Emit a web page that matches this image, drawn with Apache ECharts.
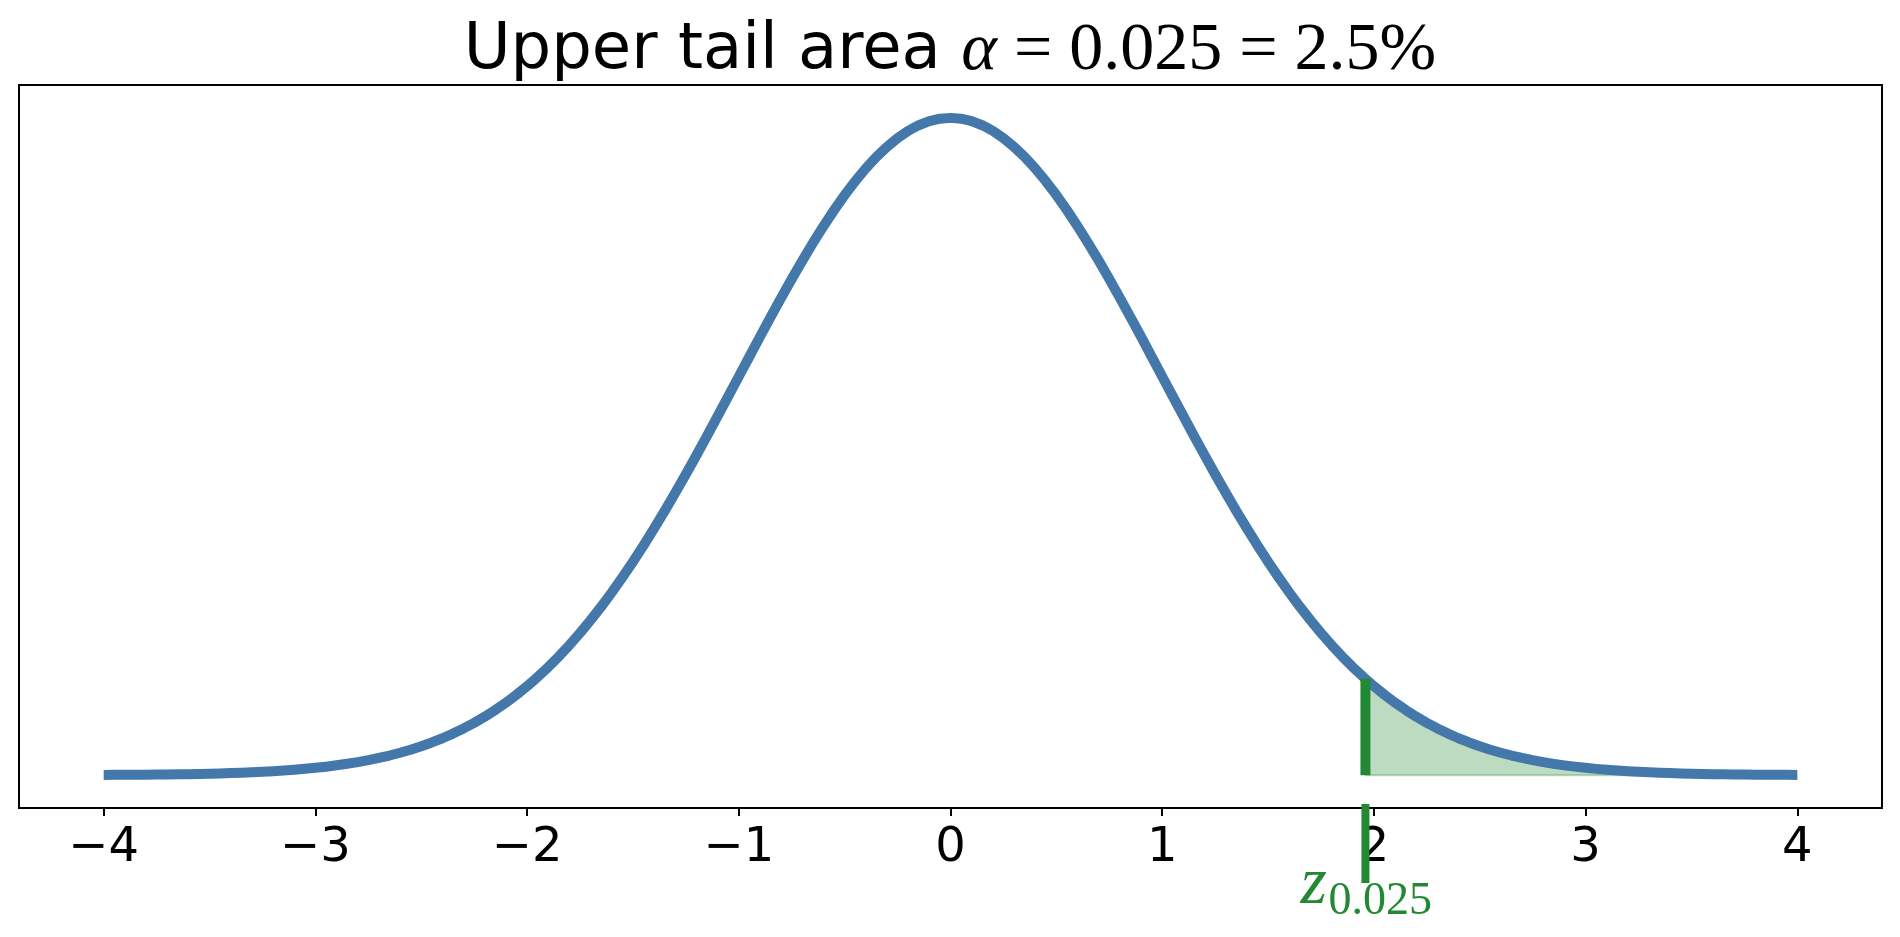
<!DOCTYPE html>
<html>
<head>
<meta charset="utf-8">
<script src="https://cdn.jsdelivr.net/npm/echarts@6/dist/echarts.min.js"></script>
<style>
html,body{margin:0;padding:0;background:#fff;}
#main{width:1900px;height:937px;}
</style>
</head>
<body>
<div id="main"></div>
<script>
// Curve points (bell-shaped density, step 0.05)
const curveX = [-4.00,-3.95,-3.90,-3.85,-3.80,-3.75,-3.70,-3.65,-3.60,-3.55,-3.50,-3.45,-3.40,-3.35,-3.30,-3.25,-3.20,-3.15,-3.10,-3.05,-3.00,-2.95,-2.90,-2.85,-2.80,-2.75,-2.70,-2.65,-2.60,-2.55,-2.50,-2.45,-2.40,-2.35,-2.30,-2.25,-2.20,-2.15,-2.10,-2.05,-2.00,-1.95,-1.90,-1.85,-1.80,-1.75,-1.70,-1.65,-1.60,-1.55,-1.50,-1.45,-1.40,-1.35,-1.30,-1.25,-1.20,-1.15,-1.10,-1.05,-1.00,-0.95,-0.90,-0.85,-0.80,-0.75,-0.70,-0.65,-0.60,-0.55,-0.50,-0.45,-0.40,-0.35,-0.30,-0.25,-0.20,-0.15,-0.10,-0.05,0.00,0.05,0.10,0.15,0.20,0.25,0.30,0.35,0.40,0.45,0.50,0.55,0.60,0.65,0.70,0.75,0.80,0.85,0.90,0.95,1.00,1.05,1.10,1.15,1.20,1.25,1.30,1.35,1.40,1.45,1.50,1.55,1.60,1.65,1.70,1.75,1.80,1.85,1.90,1.95,2.00,2.05,2.10,2.15,2.20,2.25,2.30,2.35,2.40,2.45,2.50,2.55,2.60,2.65,2.70,2.75,2.80,2.85,2.90,2.95,3.00,3.05,3.10,3.15,3.20,3.25,3.30,3.35,3.40,3.45,3.50,3.55,3.60,3.65,3.70,3.75,3.80,3.85,3.90,3.95,4.00];
const curveY = [0.00013,0.00016,0.00020,0.00024,0.00029,0.00035,0.00042,0.00051,0.00061,0.00073,0.00087,0.00104,0.00123,0.00146,0.00172,0.00203,0.00238,0.00279,0.00327,0.00381,0.00443,0.00514,0.00595,0.00687,0.00792,0.00909,0.01042,0.01191,0.01358,0.01545,0.01753,0.01984,0.02239,0.02522,0.02833,0.03174,0.03547,0.03955,0.04398,0.04879,0.05399,0.05959,0.06562,0.07206,0.07895,0.08628,0.09405,0.10226,0.11092,0.12001,0.12952,0.13943,0.14973,0.16038,0.17137,0.18265,0.19419,0.20594,0.21785,0.22988,0.24197,0.25406,0.26609,0.27798,0.28969,0.30114,0.31225,0.32297,0.33322,0.34294,0.35207,0.36053,0.36827,0.37524,0.38139,0.38667,0.39104,0.39448,0.39695,0.39844,0.39894,0.39844,0.39695,0.39448,0.39104,0.38667,0.38139,0.37524,0.36827,0.36053,0.35207,0.34294,0.33322,0.32297,0.31225,0.30114,0.28969,0.27798,0.26609,0.25406,0.24197,0.22988,0.21785,0.20594,0.19419,0.18265,0.17137,0.16038,0.14973,0.13943,0.12952,0.12001,0.11092,0.10226,0.09405,0.08628,0.07895,0.07206,0.06562,0.05959,0.05399,0.04879,0.04398,0.03955,0.03547,0.03174,0.02833,0.02522,0.02239,0.01984,0.01753,0.01545,0.01358,0.01191,0.01042,0.00909,0.00792,0.00687,0.00595,0.00514,0.00443,0.00381,0.00327,0.00279,0.00238,0.00203,0.00172,0.00146,0.00123,0.00104,0.00087,0.00073,0.00061,0.00051,0.00042,0.00035,0.00029,0.00024,0.00020,0.00016,0.00013];
// Shaded upper tail (from the critical value to the right end)
const tailX = [1.96,2.00,2.05,2.10,2.15,2.20,2.25,2.30,2.35,2.40,2.45,2.50,2.55,2.60,2.65,2.70,2.75,2.80,2.85,2.90,2.95,3.00,3.05,3.10,3.15,3.20,3.25,3.30,3.35,3.40,3.45,3.50,3.55,3.60,3.65,3.70,3.75,3.80,3.85,3.90,3.95,4.00];
const tailY = [0.05844,0.05399,0.04879,0.04398,0.03955,0.03547,0.03174,0.02833,0.02522,0.02239,0.01984,0.01753,0.01545,0.01358,0.01191,0.01042,0.00909,0.00792,0.00687,0.00595,0.00514,0.00443,0.00381,0.00327,0.00279,0.00238,0.00203,0.00172,0.00146,0.00123,0.00104,0.00087,0.00073,0.00061,0.00051,0.00042,0.00035,0.00029,0.00024,0.00020,0.00016,0.00013];
const zCrit = 1.96;
const zCritHeight = 0.05844;
const tickValues = [-4,-3,-2,-1,0,1,2,3,4];
const titleText = 'Upper tail area ';
const titleMath = ' = 0.025 = 2.5%';
const zLabelSub = '0.025';

const BLUE = '#4477AA';
const GREEN = '#228833';

const pairs = (xs, ys) => xs.map((x, i) => [x, ys[i]]);

const chart = echarts.init(document.getElementById('main'), null, {renderer: 'canvas'});
chart.setOption({
  animation: false,
  backgroundColor: '#ffffff',
  title: {
    left: 'center',
    top: 17,
    padding: 0,
    text: '{a|' + titleText + '}{m|α}{n|' + titleMath + '}',
    textStyle: {
      fontWeight: 'normal',
      rich: {
        a: {fontFamily: 'DejaVu Sans', fontSize: 64, fontWeight: 'normal', color: '#000'},
        m: {fontFamily: 'Liberation Serif', fontStyle: 'italic', fontWeight: 'normal', fontSize: 68, color: '#000'},
        n: {fontFamily: 'Liberation Serif', fontWeight: 'normal', fontSize: 68, color: '#000'}
      }
    }
  },
  grid: {
    left: 19, right: 18, top: 85, bottom: 129,
    show: true, borderColor: '#000', borderWidth: 2, backgroundColor: 'transparent',
    containLabel: false
  },
  xAxis: {
    type: 'value', min: -4.4, max: 4.4, position: 'bottom',
    splitLine: {show: false},
    axisLine: {show: true, onZero: false, lineStyle: {color: '#000', width: 2}},
    axisTick: {show: true, customValues: tickValues, length: 8, inside: false, lineStyle: {color: '#000', width: 2}},
    axisLabel: {
      show: true, customValues: tickValues, margin: 17,
      fontFamily: 'DejaVu Sans', fontSize: 48, color: '#000',
      formatter: v => (v < 0 ? '\u2212' + (-v) : String(v))
    }
  },
  yAxis: {
    type: 'value', min: -0.01995, max: 0.41889,
    show: false, splitLine: {show: false}
  },
  series: [
    {
      type: 'line', name: 'tail', data: pairs(tailX, tailY), smooth: false,
      symbol: 'none', lineStyle: {width: 0},
      areaStyle: {color: GREEN, opacity: 0.3, origin: 'auto'}, z: 1
    },
    {
      type: 'line', name: 'tailEdge', data: [[zCrit, 0], [tailX[tailX.length - 1], 0]],
      symbol: 'none', lineStyle: {width: 2, color: GREEN, opacity: 0.3}, z: 1
    },
    {
      type: 'line', name: 'pdf', data: pairs(curveX, curveY), smooth: false,
      symbol: 'none', lineStyle: {width: 10, color: BLUE, cap: 'butt', join: 'round'}, z: 2
    },
    {
      type: 'line', name: 'crit', data: [[zCrit, 0], [zCrit, zCritHeight]],
      symbol: 'none', lineStyle: {width: 10, color: GREEN, cap: 'butt'}, z: 3
    },
    {
      type: 'custom', name: 'critLabel', data: [[zCrit, 0]], clip: false, z: 4,
      renderItem: function (params, api) {
        const px = api.coord([api.value(0), api.value(1)])[0];
        const cs = params.coordSys;
        const bottom = cs.y + cs.height;
        return {
          type: 'group',
          children: [
            {type: 'line', shape: {x1: px, y1: bottom - 4, x2: px, y2: bottom + 75},
             style: {stroke: GREEN, lineWidth: 8}},
            {type: 'text', style: {text: 'z', x: px - 65, y: bottom + 77,
             font: 'italic 68px "Liberation Serif"', fill: GREEN, align: 'left', verticalAlign: 'middle'}},
            {type: 'text', style: {text: zLabelSub, x: px - 37, y: bottom + 94,
             font: '46px "Liberation Serif"', fill: GREEN, align: 'left', verticalAlign: 'middle'}}
          ]
        };
      }
    }
  ]
});
</script>
</body>
</html>
